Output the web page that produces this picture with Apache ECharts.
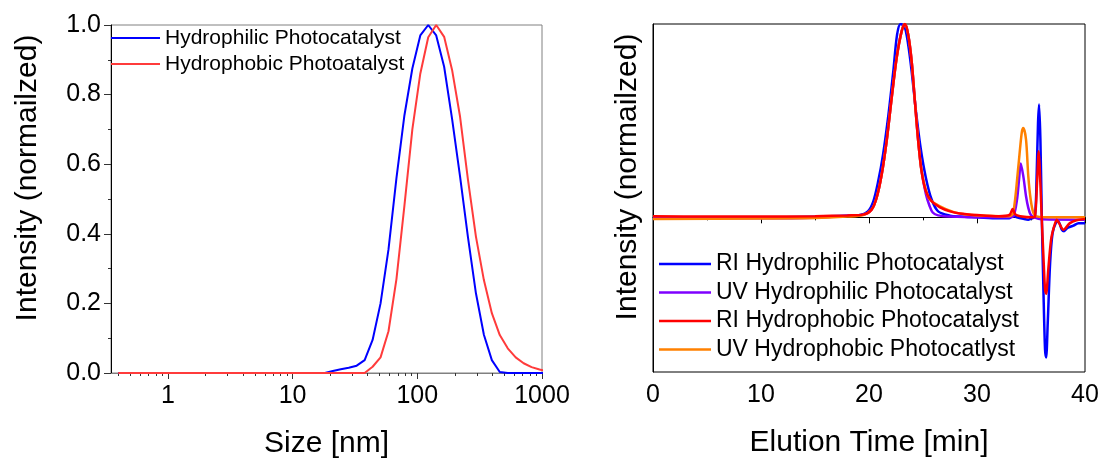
<!DOCTYPE html>
<html><head><meta charset="utf-8">
<script src="https://cdn.jsdelivr.net/npm/echarts@6/dist/echarts.min.js"></script>
<style>html,body{margin:0;padding:0;background:#fff}#c{width:1102px;height:459px}</style>
</head><body><div id="c"></div>
<script>
// ---------- Left panel: DLS size distribution ----------
const dlsSize = [0.4, 0.4632, 0.5365, 0.6213, 0.7195, 0.8332, 0.9649, 1.117, 1.294, 1.499, 1.736, 2.01, 2.328, 2.696, 3.122, 3.615, 4.187, 4.849, 5.615, 6.503, 7.531, 8.721, 10.1, 11.7, 13.54, 15.69, 18.17, 21.04, 24.36, 28.21, 32.67, 37.84, 43.82, 50.75, 58.77, 68.06, 78.82, 91.28, 105.7, 122.4, 141.8, 164.2, 190.1, 220.2, 255.0, 295.3, 342.0, 396.1, 458.7, 531.2, 615.1, 712.4, 825.0, 955.4, 1106];
const dlsHydrophilic = [0,0,0,0,0,0,0,0,0,0,0,0,0,0,0,0,0,0,0,0,0,0,0,0,0,0,0,
  0.006, 0.011, 0.015, 0.021, 0.037, 0.095, 0.20, 0.355, 0.56, 0.74, 0.875, 0.97, 1.0, 0.97, 0.88, 0.73, 0.565, 0.39, 0.229, 0.11, 0.037, 0.003, 0, 0, 0, 0, 0, 0];
const dlsHydrophobic = [0,0,0,0,0,0,0,0,0,0,0,0,0,0,0,0,0,0,0,0,0,0,0,0,0,0,0,0,0,0,0,0,
  0.018, 0.045, 0.12, 0.27, 0.48, 0.70, 0.86, 0.965, 1.0, 0.966, 0.871, 0.737, 0.555, 0.392, 0.267, 0.172, 0.109, 0.071, 0.045, 0.028, 0.017, 0.01, 0.005];
const sizeMajorTicks = [1, 10, 100, 1000];
const sizeMinorTicks = [0.4,0.5,0.6,0.7,0.8,0.9, 2,3,4,5,6,7,8,9, 20,30,40,50,60,70,80,90, 200,300,400,500,600,700,800,900];
const leftLegend = ['Hydrophilic Photocatalyst', 'Hydrophobic Photoatalyst'];

// ---------- Right panel: GPC elution traces ----------
const riPhilT = [0,5,10,15,18,19.2,19.9,20.4,20.85,21.3,21.8,22.25,22.6,22.93,23.3,23.63,23.95,24.35,24.78,25.27,25.8,26.4,27.5,28.4,30,32,33.0,33.3,33.7,34.3,34.75,35.1,35.37,35.53,35.65,35.75,35.87,36.0,36.15,36.3,36.4,36.55,36.77,37.0,37.3,37.53,37.85,38.06,38.37,38.93,39.4,40];
const riPhilV = [0,0,0,0.003,0.008,0.012,0.031,0.083,0.186,0.324,0.531,0.755,0.945,1.0,0.985,0.893,0.755,0.548,0.359,0.204,0.092,0.031,0.009,0.004,0,-0.005,-0.005,0.01,0,-0.008,-0.012,-0.005,0.005,0.23,0.488,0.583,0.402,0.005,-0.374,-0.684,-0.725,-0.546,-0.236,-0.081,-0.029,-0.021,-0.064,-0.072,-0.055,-0.043,-0.03,-0.03];

const uvPhilT = [0,5,10,15,18,19.46,20.24,20.7,21.17,21.63,22.1,22.56,23.02,23.33,23.63,23.95,24.25,24.56,24.87,25.27,25.6,25.9,26.4,27.5,30,33.0,33.4,33.7,33.9,34.05,34.29,34.54,34.75,34.97,35.3,36,40];
const uvPhilV = [0,-0.003,-0.005,-0.002,0.008,0.014,0.04,0.10,0.22,0.393,0.618,0.825,0.962,1.0,0.945,0.807,0.6,0.393,0.238,0.12,0.06,0.025,0.01,0.004,0,0,0.01,0.09,0.2,0.278,0.212,0.109,0.049,0.014,0,-0.01,-0.012];

const riPhobT = [0,5,10,15,18,19.46,20.24,20.7,21.17,21.63,22.1,22.56,23.02,23.33,23.63,23.95,24.25,24.56,24.87,25.27,25.8,26.57,27.5,28.4,30,32,33.0,33.3,33.55,34.0,35.1,35.37,35.56,35.72,35.84,36.0,36.15,36.3,36.4,36.6,36.86,37.14,37.39,37.6,38.0,38.6,39.2,40];
const riPhobV = [0.005,0.004,0.004,0.006,0.01,0.014,0.04,0.10,0.22,0.393,0.618,0.825,0.962,1.0,0.945,0.807,0.6,0.393,0.238,0.135,0.083,0.052,0.031,0.02,0.012,0.006,0.012,0.043,0.015,0.006,0,0.005,0.178,0.342,0.212,-0.012,-0.2,-0.374,-0.395,-0.27,-0.115,-0.047,-0.012,-0.03,-0.064,-0.03,-0.015,-0.008];

const uvPhobT = [0,10,15,18,19.46,20.24,20.7,21.17,21.63,22.1,22.56,23.02,23.33,23.63,23.95,24.25,24.56,24.87,25.27,25.64,26.57,27.8,29,31,33.0,33.36,33.83,34.14,34.29,34.54,34.75,34.97,35.22,35.53,37,40];
const uvPhobV = [-0.008,-0.006,-0.004,0.004,0.012,0.04,0.10,0.22,0.393,0.618,0.825,0.962,1.0,0.945,0.807,0.6,0.393,0.238,0.14,0.092,0.057,0.028,0.015,0.008,0.005,0.023,0.264,0.437,0.462,0.402,0.212,0.092,0.023,0.005,0,0];
const rightLegend = ['RI Hydrophilic Photocatalyst', 'UV Hydrophilic Photocatalyst', 'RI Hydrophobic Photocatalyst', 'UV Hydrophobic Photocatlyst'];
const timeTicks = [0, 10, 20, 30, 40];

const FONT = 'Liberation Sans, Arial, sans-serif';
const zip = (xs, ys) => xs.map((x, i) => [x, ys[i]]);

const chart = echarts.init(document.getElementById('c'), null, {renderer: 'canvas'});
const option = {
  animation: false,
  backgroundColor: '#fff',
  textStyle: {fontFamily: FONT},
  grid: [
    {left: 111, top: 25, width: 431, height: 348, show: true, borderColor: '#808080', borderWidth: 1, backgroundColor: 'transparent',
     containLabel: false, outerBoundsMode: 'none'},
    {left: 653, top: 24, width: 432, height: 348, show: true, borderColor: '#000', borderWidth: 1, backgroundColor: 'transparent',
     containLabel: false, outerBoundsMode: 'none'}
  ],
  legend: [
    {data: leftLegend, orient: 'vertical', left: 111, top: 26, padding: 0, itemGap: 2, itemWidth: 49, itemHeight: 2, icon: 'rect',
     textStyle: {fontSize: 21, fontFamily: FONT, color: '#000', lineHeight: 24}, selectedMode: false},
    {data: rightLegend, orient: 'vertical', left: 659, top: 252, padding: 0, itemGap: 4.5, itemWidth: 52, itemHeight: 2.5, icon: 'rect',
     textStyle: {fontSize: 23, fontFamily: FONT, color: '#000', lineHeight: 24}, selectedMode: false}
  ],
  xAxis: [
    {type: 'log', gridIndex: 0, min: 0.35, max: 1000, logBase: 10,
     name: 'Size [nm]', nameLocation: 'middle', nameGap: 56,
     nameTextStyle: {fontSize: 30, fontFamily: FONT, color: '#000'},
     axisLine: {show: true, lineStyle: {color: '#808080', width: 1}},
     axisTick: {show: true, inside: false, length: 6, customValues: sizeMajorTicks, lineStyle: {color: '#333'}},
     axisLabel: {customValues: sizeMajorTicks, fontSize: 25, fontFamily: FONT, color: '#000', margin: 11, formatter: v => String(Math.round(v))},
     splitLine: {show: false}, minorTick: {show: false}},
    {type: 'log', gridIndex: 0, min: 0.35, max: 1000, logBase: 10, position: 'bottom',
     axisLine: {show: false},
     axisTick: {show: true, inside: false, length: 3, customValues: sizeMinorTicks, lineStyle: {color: '#333'}},
     axisLabel: {show: false}, splitLine: {show: false}},
    {type: 'value', gridIndex: 1, min: 0, max: 40, interval: 10,
     name: 'Elution Time [min]', nameLocation: 'middle', nameGap: 56,
     nameTextStyle: {fontSize: 30, fontFamily: FONT, color: '#000'},
     axisLine: {show: true, lineStyle: {color: '#000', width: 1}},
     axisTick: {show: true, inside: false, length: 6, lineStyle: {color: '#000'}},
     minorTick: {show: true, splitNumber: 2, length: 3, lineStyle: {color: '#000'}},
     axisLabel: {fontSize: 25, fontFamily: FONT, color: '#000', margin: 11, customValues: timeTicks},
     splitLine: {show: false}}
  ],
  yAxis: [
    {type: 'value', gridIndex: 0, min: 0, max: 1, interval: 0.2,
     name: 'Intensity (normailzed)', nameLocation: 'middle', nameGap: 68, nameRotate: 90,
     nameTextStyle: {fontSize: 30, fontFamily: FONT, color: '#000', padding: [0, 0, 0, 42]},
     axisLine: {show: true, lineStyle: {color: '#000', width: 1}},
     axisTick: {show: true, inside: false, length: 7, lineStyle: {color: '#333'}},
     minorTick: {show: true, splitNumber: 2, length: 3, lineStyle: {color: '#333'}},
     axisLabel: {fontSize: 25, fontFamily: FONT, color: '#000', margin: 10, formatter: v => v.toFixed(1)},
     splitLine: {show: false}},
    {type: 'value', gridIndex: 1, min: -0.8, max: 1.0,
     name: 'Intensity (normailzed)', nameLocation: 'middle', nameGap: 10, nameRotate: 90,
     nameTextStyle: {fontSize: 30, fontFamily: FONT, color: '#000', padding: [0, 0, 0, 42]},
     axisLine: {show: true, lineStyle: {color: '#000', width: 1}},
     axisTick: {show: false}, axisLabel: {show: false}, splitLine: {show: false}}
  ],
  series: [
    {name: leftLegend[0], type: 'line', xAxisIndex: 0, yAxisIndex: 0, data: zip(dlsSize, dlsHydrophilic),
     symbol: 'none', lineStyle: {color: '#0000ff', width: 2}, itemStyle: {color: '#0000ff'}, clip: true},
    {name: leftLegend[1], type: 'line', xAxisIndex: 0, yAxisIndex: 0, data: zip(dlsSize, dlsHydrophobic),
     symbol: 'none', lineStyle: {color: '#ff3b3b', width: 2}, itemStyle: {color: '#ff3b3b'}, clip: true},
    {name: rightLegend[0], type: 'line', xAxisIndex: 2, yAxisIndex: 1, data: zip(riPhilT, riPhilV), smooth: 0.3,
     symbol: 'none', lineStyle: {color: '#0000ff', width: 2.5}, itemStyle: {color: '#0000ff'}},
    {name: rightLegend[1], type: 'line', xAxisIndex: 2, yAxisIndex: 1, data: zip(uvPhilT, uvPhilV), smooth: 0.3,
     symbol: 'none', lineStyle: {color: '#7f00ff', width: 2.5}, itemStyle: {color: '#7f00ff'}},
    {name: rightLegend[3], type: 'line', xAxisIndex: 2, yAxisIndex: 1, data: zip(uvPhobT, uvPhobV), smooth: 0.3,
     symbol: 'none', lineStyle: {color: '#ff8000', width: 2.5}, itemStyle: {color: '#ff8000'}},
    {name: rightLegend[2], type: 'line', xAxisIndex: 2, yAxisIndex: 1, data: zip(riPhobT, riPhobV), smooth: 0.3,
     symbol: 'none', lineStyle: {color: '#ff0000', width: 2.5}, itemStyle: {color: '#ff0000'}}
  ]
};
chart.setOption(option);
</script>
</body></html>
